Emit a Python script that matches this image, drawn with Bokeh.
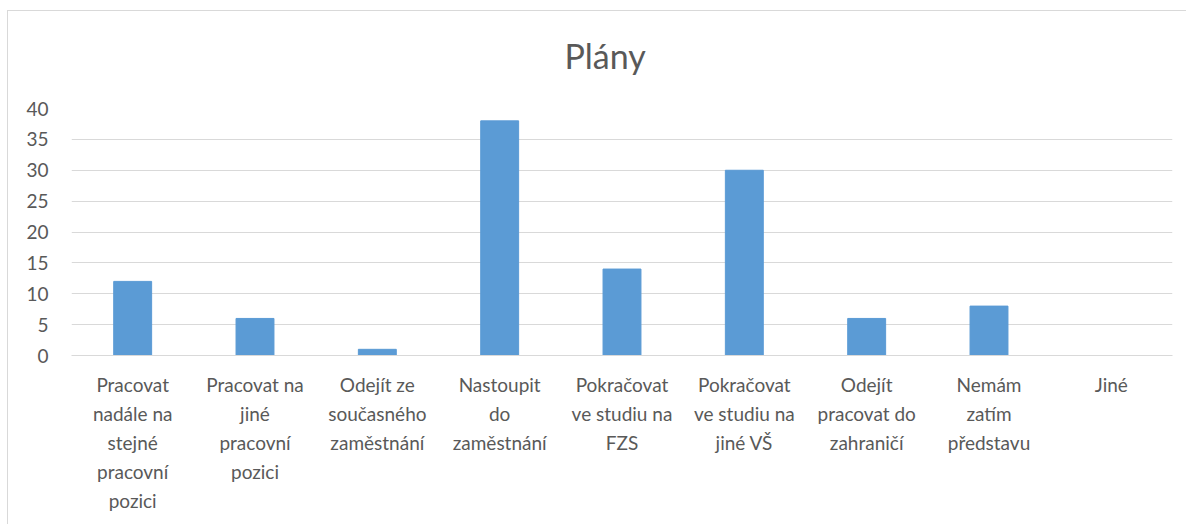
from bokeh.plotting import figure
from bokeh.models import FactorRange, Range1d, SingleIntervalTicker, Title
from bokeh.embed import file_html
from bokeh.resources import INLINE

categories = [
    "Pracovat\nnadále na\nstejné\npracovní\npozici",
    "Pracovat na\njiné\npracovní\npozici",
    "Odejít ze\nsoučasného\nzaměstnání",
    "Nastoupit\ndo\nzaměstnání",
    "Pokračovat\nve studiu na\nFZS",
    "Pokračovat\nve studiu na\njiné VŠ",
    "Odejít\npracovat do\nzahraničí",
    "Nemám\nzatím\npředstavu",
    "Jiné",
]
values = [12, 6, 1, 38, 14, 30, 6, 8, 0]
title_text = "Plány"

FONT = "Lato"
GREY = "#595959"
LINE = "#d9d9d9"

p = figure(
    x_range=FactorRange(factors=categories, range_padding=0),
    y_range=Range1d(0, 40),
    width=1179, height=514,
    output_backend="svg", toolbar_location=None,
    min_border_left=63, min_border_right=15,
    min_border_top=97, min_border_bottom=170,
)
p.styles = {"border-left": f"1px solid {LINE}", "border-top": f"1px solid {LINE}",
            "margin-left": "7px", "margin-top": "10px"}
p.outline_line_color = None
p.background_fill_color = "white"
p.border_fill_color = "white"

p.vbar(x=categories, top=values, width=0.31, fill_color="#5B9BD5", line_color="#5B9BD5")

# spacer between the frame and the title (first entry sits closest to the frame)
spacer = Title(text=" ", text_font_size="1px", standoff=30)
p.add_layout(spacer, "above")
main_title = Title(text=title_text, text_font=FONT, text_font_size="34px",
                   text_font_style="normal", text_color=GREY, align="left",
                   offset=493, standoff=0)
p.add_layout(main_title, "above")

p.xgrid.grid_line_color = None
p.ygrid.grid_line_color = LINE
p.ygrid.grid_line_width = 1

p.yaxis.ticker = SingleIntervalTicker(interval=5)
p.yaxis.axis_line_color = None
p.yaxis.major_tick_line_color = None
p.yaxis.minor_tick_line_color = None
p.yaxis.major_label_text_font = FONT
p.yaxis.major_label_text_font_size = "19px"
p.yaxis.major_label_text_color = GREY
p.yaxis.major_label_standoff = 17

p.xaxis.axis_line_color = LINE
p.xaxis.major_tick_line_color = None
p.xaxis.minor_tick_line_color = None
p.xaxis.major_label_text_font = FONT
p.xaxis.major_label_text_font_size = "19px"
p.xaxis.major_label_text_color = GREY
p.xaxis.major_label_text_line_height = 1.27
p.xaxis.major_label_standoff = 11

open("out.html", "w").write(file_html(p, INLINE))
